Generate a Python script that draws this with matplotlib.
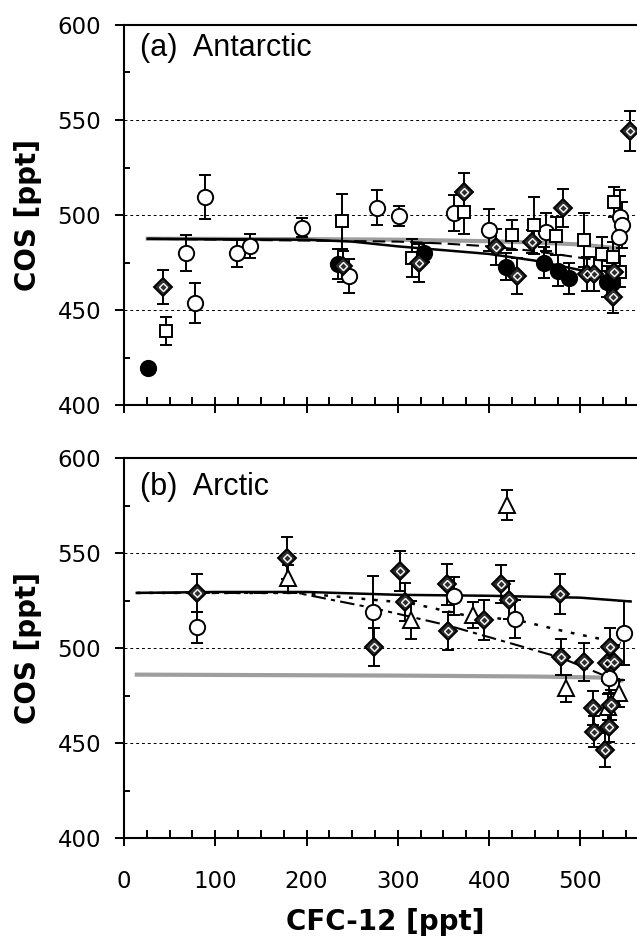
import matplotlib
matplotlib.use('Agg')
import matplotlib.pyplot as plt
from matplotlib.ticker import MultipleLocator

# ---- panel (a) Antarctic ----
a_circ_x = [67.6, 77.9, 88.4, 124, 137.8, 195.5, 246.7, 277, 301, 361.8, 399.5, 462, 543, 545.6, 542]
a_circ_y = [479.8, 453.8, 509.6, 479.8, 483.7, 493.3, 467.9, 503.9, 499.5, 500.9, 492, 491.2, 499.1, 494.7, 488.6]
a_circ_e = [9.5, 10.5, 11.5, 7, 6.5, 5, 9, 9, 5.5, 9.5, 11, 10, 14, 12, 10]

a_fill_x = [26, 234, 329, 419, 460.5, 475, 488, 529, 534.7]
a_fill_y = [419.5, 474.2, 480.2, 472.8, 475, 470.7, 466.6, 464.9, 464]
a_fill_e = [0, 8, 5, 7, 8, 8, 8, 8, 8]

a_sq_x = [45.7, 239, 315.4, 372, 425, 449.6, 473.7, 504, 523.8, 535.8, 536.5, 543]
a_sq_y = [439, 496.7, 477.2, 501.8, 489.5, 494.7, 489, 486.8, 479.5, 478, 507, 470.2]
a_sq_e = [7.5, 14.5, 10, 12, 8, 15, 10, 14, 9, 8, 8, 8]

a_dia_x = [43, 239.8, 322.7, 373, 407.5, 431, 447, 481, 507, 514.6, 536.5, 535.8, 554]
a_dia_y = [462.3, 473, 475, 512, 483.3, 468, 486, 503.9, 469, 469, 470.2, 456.7, 544.2]
a_dia_e = [9, 8, 10, 10, 9.5, 9.5, 6, 10, 9, 9, 8, 8.5, 10.7]

a_gray_x = [26, 200, 300, 400, 450, 500, 540]
a_gray_y = [487.5, 487.3, 487, 486.2, 485.5, 484.5, 482.5]
a_solid_x = [26, 200, 250, 300, 350, 400, 450, 500, 535]
a_solid_y = [487.5, 487, 486, 483.5, 481.5, 479.5, 476, 471, 465]
a_dash_x = [26, 300, 350, 400, 450, 500, 540]
a_dash_y = [487.5, 486, 485, 483.5, 481, 477.5, 475]

# ---- panel (b) Arctic ----
b_circ_x = [79.7, 272.7, 362, 428.7, 531, 547.5]
b_circ_y = [510.9, 519.1, 527.5, 515.3, 484.4, 508]
b_circ_e = [8, 19, 10, 10, 8, 17]

b_tri_x = [180, 314.7, 382, 419.6, 484.6, 530, 542]
b_tri_y = [536.7, 514.7, 517.4, 575.3, 478.8, 469, 476.1]
b_tri_e = [7, 10, 7, 8, 7, 7, 7]

b_dia_x = [80.4, 179, 273.4, 302.6, 308, 353.8, 354.5, 394, 413, 421.4, 478, 478.8,
           503.6, 513.9, 514.6, 527.4, 531, 533, 532, 529, 536.5]
b_dia_y = [529.1, 547.2, 500.7, 540.5, 524.4, 533.5, 509.1, 514.7, 533.5, 525.3, 528.2, 495.4,
           492.8, 468.3, 456, 446.3, 458.6, 470, 500.7, 491.9, 492.8]
b_dia_e = [10, 11, 10, 10.5, 10, 10.7, 10, 10.5, 10, 10, 10.5, 9.6,
           10, 9, 8, 9, 8, 8, 10, 9, 9]

b_gray_x = [14, 300, 450, 520, 545]
b_gray_y = [486, 485.5, 485, 484.5, 483]
b_solid_x = [14, 100, 200, 300, 400, 500, 555]
b_solid_y = [529, 529.5, 529.5, 528, 527.5, 526.5, 524.5]
b_dashdot_x = [14, 190, 273, 354, 398, 478, 544]
b_dashdot_y = [529, 529, 521, 512, 506, 495, 482]
b_dot_x = [14, 190, 314, 376, 431, 486, 544]
b_dot_y = [529, 529, 523.6, 517, 514.7, 508.4, 502.6]

yticks = [400, 450, 500, 550, 600]
xticks = [0, 100, 200, 300, 400, 500]

plt.rcParams['font.family'] = 'DejaVu Sans'


def style_axis(ax, label):
    ax.set_xlim(0, 562)
    ax.set_ylim(400, 600)
    ax.set_xticks(xticks)
    ax.set_yticks(yticks)
    ax.xaxis.set_minor_locator(MultipleLocator(25))
    ax.yaxis.set_minor_locator(MultipleLocator(25))
    ax.tick_params(axis='x', which='major', direction='inout', length=12, width=1.4,
                   labelsize=16.5, pad=17)
    ax.tick_params(axis='x', which='minor', direction='in', length=6, width=1.4)
    ax.tick_params(axis='y', which='major', direction='out', length=6.5, width=1.4,
                   labelsize=16.5, pad=10)
    ax.tick_params(axis='y', which='minor', direction='in', length=4.5, width=1.4)
    ax.spines['right'].set_visible(False)
    for s in ['left', 'bottom', 'top']:
        ax.spines[s].set_linewidth(1.5)
    for g in [450, 500, 550]:
        ax.axhline(g, color='black', lw=0.7, dashes=(3, 3), zorder=1)
    ax.set_ylabel('COS [ppt]', fontsize=20, fontweight='bold')
    ax.yaxis.set_label_coords(-0.16, 0.5)
    ax.text(0.031, 0.979 if label.startswith('(a)') else 0.962, label,
            transform=ax.transAxes, ha='left', va='top', fontsize=22,
            family='Liberation Sans')


def points(ax, x, y, e, marker, ms, fc):
    ax.errorbar(x, y, yerr=e, fmt='none', ecolor='black', elinewidth=1.4,
                capsize=4, capthick=1.4, zorder=3)
    ax.plot(x, y, linestyle='none', marker=marker, ms=ms, mfc=fc, mec='black',
            mew=1.4, zorder=4)


def diamonds(ax, x, y, e):
    points(ax, x, y, e, 'D', 9.5, '#2e2e2e')
    ax.plot(x, y, linestyle='none', marker='D', ms=4, mfc='none', mec='white',
            mew=1.0, zorder=5)


fig = plt.figure(figsize=(6.37, 9.43), dpi=100)
ax1 = fig.add_axes([0.1947, 0.5705, 0.8053, 0.403])
ax2 = fig.add_axes([0.1947, 0.1113, 0.8053, 0.403])

# (a)
ax1.plot(a_gray_x, a_gray_y, color='#9e9e9e', lw=3, zorder=2)
ax1.plot(a_solid_x, a_solid_y, color='black', lw=1.8, zorder=2)
ax1.plot(a_dash_x, a_dash_y, color='black', lw=1.5, dashes=(6, 3), zorder=2)
points(ax1, a_circ_x, a_circ_y, a_circ_e, 'o', 11, 'white')
points(ax1, a_sq_x, a_sq_y, a_sq_e, 's', 8.6, 'white')
points(ax1, a_fill_x, a_fill_y, a_fill_e, 'o', 11, 'black')
diamonds(ax1, a_dia_x, a_dia_y, a_dia_e)
style_axis(ax1, '(a)  Antarctic')
ax1.tick_params(axis='x', labelbottom=False)

# (b)
ax2.plot(b_gray_x, b_gray_y, color='#9e9e9e', lw=3, zorder=2)
ax2.plot(b_solid_x, b_solid_y, color='black', lw=1.8, zorder=2)
ax2.plot(b_dashdot_x, b_dashdot_y, color='black', lw=1.5, dashes=(7, 2.5, 2, 2.5), zorder=2)
ax2.plot(b_dot_x, b_dot_y, color='black', lw=1.8, dashes=(1.5, 3.5), zorder=2)
points(ax2, b_circ_x, b_circ_y, b_circ_e, 'o', 11, 'white')
points(ax2, b_tri_x, b_tri_y, b_tri_e, '^', 11, 'white')
diamonds(ax2, b_dia_x, b_dia_y, b_dia_e)
style_axis(ax2, '(b)  Arctic')
ax2.set_xlabel('CFC-12 [ppt]', fontsize=20, fontweight='bold')
ax2.xaxis.set_label_coords(0.51, -0.184)

fig.savefig('out.png', dpi=100)
